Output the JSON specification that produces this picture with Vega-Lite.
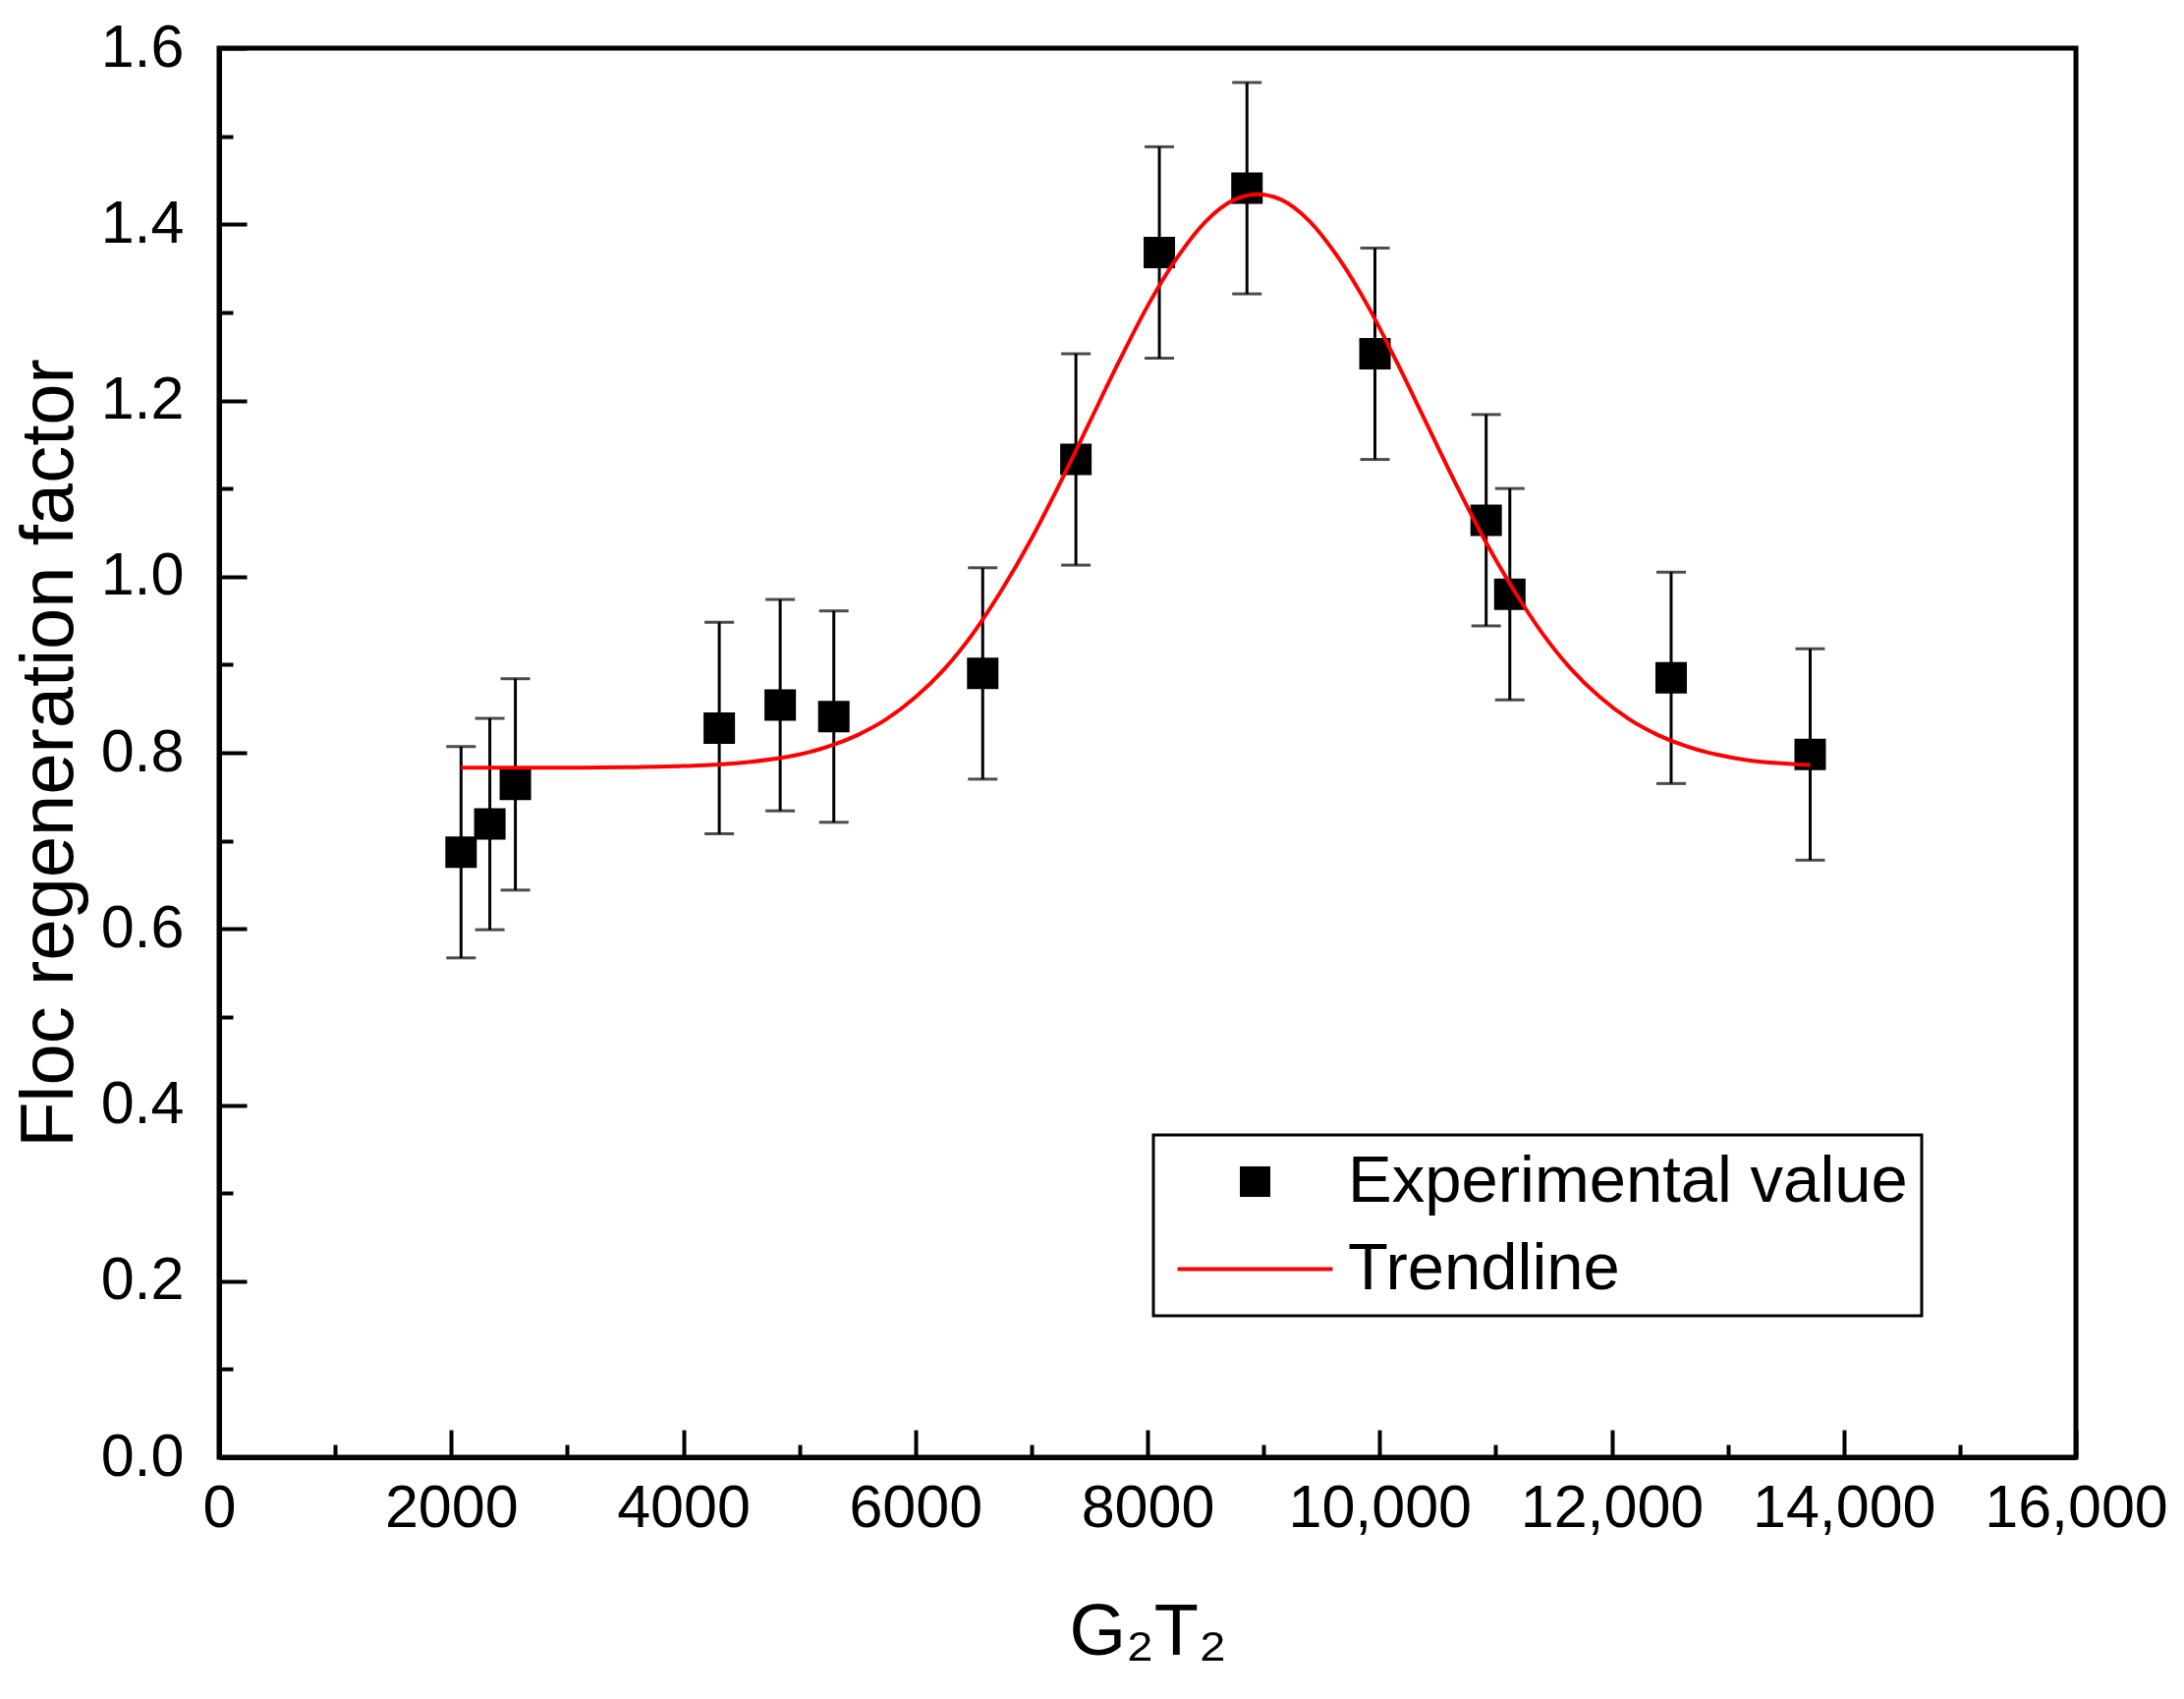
{
  "$schema": "https://vega.github.io/schema/vega-lite/v6.json",
  "width": 1890,
  "height": 1434,
  "autosize": {"type": "none"},
  "padding": {"left": 223, "top": 49, "right": 110, "bottom": 246},
  "background": "white",
  "config": {
    "view": {"stroke": "black", "strokeWidth": 5},
    "font": "Liberation Sans, Arial, sans-serif",
    "axis": {"grid": false, "labelFont": "Liberation Sans, Arial, sans-serif", "titleFont": "Liberation Sans, Arial, sans-serif", "labelColor": "black", "titleColor": "black", "tickColor": "black", "domainColor": "black", "titleFontWeight": "normal", "labelLimit": 0},
    "legend": {"strokeWidth": 3}
  },
  "datasets": {
    "exp": [
      {"x": 2085, "y": 0.687, "lo": 0.567, "hi": 0.807},
      {"x": 2333, "y": 0.719, "lo": 0.599, "hi": 0.839},
      {"x": 2553, "y": 0.764, "lo": 0.644, "hi": 0.884},
      {"x": 4310, "y": 0.828, "lo": 0.708, "hi": 0.948},
      {"x": 4835, "y": 0.854, "lo": 0.734, "hi": 0.974},
      {"x": 5297, "y": 0.841, "lo": 0.721, "hi": 0.961},
      {"x": 6580, "y": 0.890, "lo": 0.770, "hi": 1.010},
      {"x": 7383, "y": 1.133, "lo": 1.013, "hi": 1.253},
      {"x": 8102, "y": 1.368, "lo": 1.248, "hi": 1.488},
      {"x": 8857, "y": 1.441, "lo": 1.321, "hi": 1.561},
      {"x": 9960, "y": 1.253, "lo": 1.133, "hi": 1.373},
      {"x": 10918, "y": 1.064, "lo": 0.944, "hi": 1.184},
      {"x": 11122, "y": 0.980, "lo": 0.860, "hi": 1.100},
      {"x": 12512, "y": 0.885, "lo": 0.765, "hi": 1.005},
      {"x": 13710, "y": 0.798, "lo": 0.678, "hi": 0.918}
    ],
    "trend": [
      {"x": 2085, "y": 0.783},
      {"x": 3000, "y": 0.783},
      {"x": 3500, "y": 0.7835},
      {"x": 4000, "y": 0.7848},
      {"x": 4500, "y": 0.7885},
      {"x": 5000, "y": 0.798},
      {"x": 5250, "y": 0.807},
      {"x": 5500, "y": 0.820},
      {"x": 5750, "y": 0.838},
      {"x": 6000, "y": 0.863},
      {"x": 6250, "y": 0.895},
      {"x": 6500, "y": 0.936},
      {"x": 6750, "y": 0.986},
      {"x": 7000, "y": 1.043},
      {"x": 7250, "y": 1.107},
      {"x": 7500, "y": 1.175},
      {"x": 7750, "y": 1.243},
      {"x": 8000, "y": 1.307},
      {"x": 8250, "y": 1.361},
      {"x": 8500, "y": 1.403},
      {"x": 8750, "y": 1.428},
      {"x": 8950, "y": 1.434},
      {"x": 9150, "y": 1.428},
      {"x": 9400, "y": 1.403},
      {"x": 9650, "y": 1.361},
      {"x": 9900, "y": 1.307},
      {"x": 10150, "y": 1.243},
      {"x": 10400, "y": 1.175},
      {"x": 10650, "y": 1.107},
      {"x": 10900, "y": 1.043},
      {"x": 11150, "y": 0.986},
      {"x": 11400, "y": 0.936},
      {"x": 11650, "y": 0.895},
      {"x": 11900, "y": 0.863},
      {"x": 12150, "y": 0.838},
      {"x": 12400, "y": 0.820},
      {"x": 12650, "y": 0.807},
      {"x": 12900, "y": 0.798},
      {"x": 13150, "y": 0.792},
      {"x": 13400, "y": 0.7885},
      {"x": 13710, "y": 0.786}
    ]
  },
  "resolve": {"axis": {"x": "independent", "y": "independent"}},
  "layer": [
    {
      "data": {"name": "exp"},
      "mark": {"type": "errorbar", "color": "black", "thickness": 3, "ticks": {"size": 30, "thickness": 3, "color": "black"}, "rule": {"strokeWidth": 3, "color": "black"}},
      "encoding": {
        "x": {"field": "x", "type": "quantitative", "scale": {"domain": [0, 16000], "nice": false}, "axis": null},
        "y": {"field": "lo", "type": "quantitative", "scale": {"domain": [0, 1.6], "nice": false}, "axis": null},
        "y2": {"field": "hi"}
      }
    },
    {
      "data": {"name": "exp"},
      "mark": {"type": "point", "filled": true, "opacity": 1, "size": 1024},
      "encoding": {
        "x": {"field": "x", "type": "quantitative", "scale": {"domain": [0, 16000], "nice": false},
          "axis": {"orient": "bottom", "values": [0, 2000, 4000, 6000, 8000, 10000, 12000, 14000, 16000],
            "labelExpr": "datum.value >= 10000 ? format(datum.value, ',') : format(datum.value, 'd')",
            "labelFontSize": 61, "labelPadding": 50, "labelFlush": false, "labelOverlap": false, "labelLimit": 0,
            "tickSize": -28, "tickWidth": 4, "domainWidth": 5,
            "title": "G₂T₂", "titleFontSize": 74, "titleX": 945, "titleY": 200, "titleBaseline": "alphabetic", "titleAlign": "center"}},
        "y": {"field": "y", "type": "quantitative", "scale": {"domain": [0, 1.6], "nice": false},
          "axis": {"orient": "left", "values": [0, 0.2, 0.4, 0.6, 0.8, 1.0, 1.2, 1.4, 1.6], "format": ".1f",
            "labelFontSize": 61, "labelPadding": 64, "labelFlush": false, "labelOverlap": false,
            "tickSize": -28, "tickWidth": 4, "domainWidth": 5,
            "title": "Floc regeneration factor", "titleFontSize": 76, "titleX": -150, "titleY": 717, "titleAngle": -90, "titleBaseline": "alphabetic", "titleAlign": "center"}},
        "color": {"datum": "Experimental value", "type": "nominal",
          "scale": {"domain": ["Experimental value", "Trendline"], "range": ["black", "red"]},
          "legend": {"orient": "none", "legendX": 951, "legendY": 1106, "title": null,
            "labelFont": "Liberation Sans, Arial, sans-serif", "labelFontSize": 67, "labelColor": "black", "labelLimit": 0,
            "symbolSize": 729, "symbolStrokeWidth": 4, "symbolOffset": 56, "labelOffset": 61, "rowPadding": 21,
            "padding": 14, "strokeColor": "black", "fillColor": "white"}},
        "shape": {"datum": "Experimental value", "type": "nominal",
          "scale": {"domain": ["Experimental value", "Trendline"], "range": ["square", "M-5.85,0H5.85"]},
          "legend": {"orient": "none", "legendX": 951, "legendY": 1106, "title": null,
            "labelFont": "Liberation Sans, Arial, sans-serif", "labelFontSize": 67, "labelColor": "black", "labelLimit": 0,
            "symbolSize": 729, "symbolStrokeWidth": 4, "symbolOffset": 56, "labelOffset": 61, "rowPadding": 21,
            "padding": 14, "strokeColor": "black", "fillColor": "white"}}
      }
    },
    {
      "data": {"name": "trend"},
      "mark": {"type": "line", "strokeWidth": 4, "interpolate": "monotone"},
      "encoding": {
        "x": {"field": "x", "type": "quantitative", "scale": {"domain": [0, 16000], "nice": false},
          "axis": {"orient": "bottom", "values": [1000, 3000, 5000, 7000, 9000, 11000, 13000, 15000], "labels": false, "domain": false, "tickSize": -13, "tickWidth": 4, "title": null}},
        "y": {"field": "y", "type": "quantitative", "scale": {"domain": [0, 1.6], "nice": false},
          "axis": {"orient": "left", "values": [0.1, 0.3, 0.5, 0.7, 0.9, 1.1, 1.3, 1.5], "labels": false, "domain": false, "tickSize": -14, "tickWidth": 4, "title": null}},
        "color": {"datum": "Trendline", "type": "nominal"}
      }
    }
  ]
}
